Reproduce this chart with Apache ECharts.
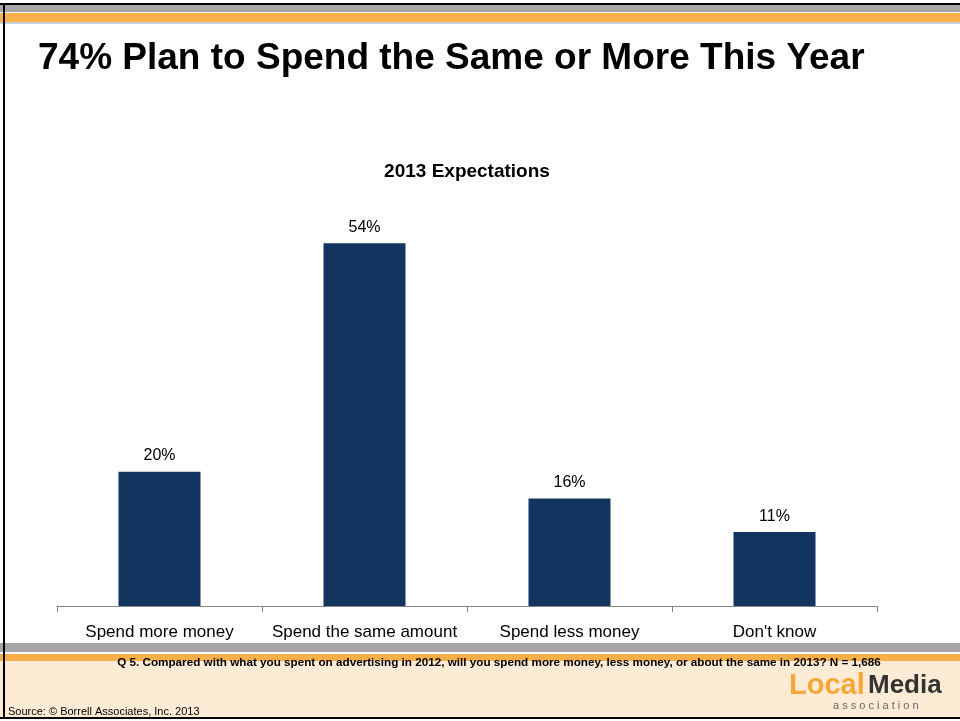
<!DOCTYPE html>
<html><head><meta charset="utf-8">
<script src="https://cdn.jsdelivr.net/npm/echarts@6/dist/echarts.min.js"></script>
<style>html,body{margin:0;padding:0;background:#fff}#c{width:960px;height:721px}</style>
</head><body><div id="c"></div>
<script>
const categories = ["Spend more money", "Spend the same amount", "Spend less money", "Don't know"];
const values = [20, 54, 16, 11];
const valueLabels = ["20%", "54%", "16%", "11%"];
const pageTitle = "74% Plan to Spend the Same or More This Year";
const chartTitle = "2013 Expectations";
const questionText = "Q 5. Compared with what you spent on advertising in 2012, will you spend more money, less money, or about the same in 2013? N = 1,686";
const sourceText = "Source: \u00a9 Borrell Associates, Inc. 2013";

const chart = echarts.init(document.getElementById('c'), null, {renderer: 'canvas'});
const F = "'Liberation Sans', 'DejaVu Sans', sans-serif";
chart.setOption({
  animation: false,
  backgroundColor: '#ffffff',
  graphic: [
    {type: 'rect', shape: {x: 0, y: 660, width: 960, height: 58}, style: {fill: '#fdebd6'}},
    {type: 'rect', shape: {x: 0, y: 3, width: 960, height: 2}, style: {fill: '#000'}},
    {type: 'rect', shape: {x: 0, y: 5, width: 960, height: 7}, style: {fill: '#a6a6a6'}},
    {type: 'rect', shape: {x: 0, y: 13, width: 960, height: 9}, style: {fill: '#f7b049'}},
    {type: 'rect', shape: {x: 0, y: 22, width: 960, height: 2}, style: {fill: '#c9d3dd'}},
    {type: 'rect', shape: {x: 0, y: 643, width: 960, height: 9}, style: {fill: '#a6a6a6'}},
    {type: 'rect', shape: {x: 0, y: 654, width: 960, height: 7}, style: {fill: '#f7b049'}},
    {type: 'rect', shape: {x: 0, y: 717, width: 960, height: 2}, style: {fill: '#000'}},
    {type: 'rect', shape: {x: 3, y: 3, width: 2, height: 716}, style: {fill: '#000'}},
    {type: 'text', x: 38, y: 59, style: {text: pageTitle, font: "bold 37px " + F, fill: '#000', verticalAlign: 'middle'}},
    {type: 'text', x: 467, y: 172, style: {text: chartTitle, font: "bold 19px " + F, fill: '#000', align: 'center', verticalAlign: 'middle'}},
    {type: 'text', x: 499, y: 663, style: {text: questionText, font: "bold 11.7px " + F, fill: '#000', align: 'center', verticalAlign: 'middle'}},
    {type: 'text', x: 8, y: 712, style: {text: sourceText, font: "11px " + F, fill: '#000', verticalAlign: 'middle'}},
    {type: 'text', x: 789, y: 686, style: {text: 'Local', font: "bold 29px " + F, fill: '#f7a738', verticalAlign: 'middle'}},
    {type: 'text', x: 868, y: 686, style: {text: 'Media', font: "bold 26px " + F, fill: '#333333', verticalAlign: 'middle'}},
    {type: 'text', x: 833, y: 706, style: {text: 'a s s o c i a t i o n', font: "11px " + F, fill: '#666', verticalAlign: 'middle'}}
  ],
  grid: {left: 57, right: 83, top: 203, bottom: 115, containLabel: false},
  xAxis: {
    type: 'category', data: categories,
    axisLine: {lineStyle: {color: '#868686'}},
    axisTick: {show: true, alignWithLabel: false, length: 6, lineStyle: {color: '#868686'}},
    axisLabel: {color: '#000', fontSize: 17, fontFamily: F, margin: 18, interval: 0}
  },
  yAxis: {type: 'value', min: 0, max: 60, show: false, splitLine: {show: false}},
  series: [{
    type: 'bar', data: values, barWidth: '40%',
    itemStyle: {color: '#12355f'},
    label: {show: true, position: 'top', distance: 8, color: '#000', fontSize: 16, fontFamily: F,
      formatter: p => valueLabels[p.dataIndex]}
  }]
});
</script></body></html>
